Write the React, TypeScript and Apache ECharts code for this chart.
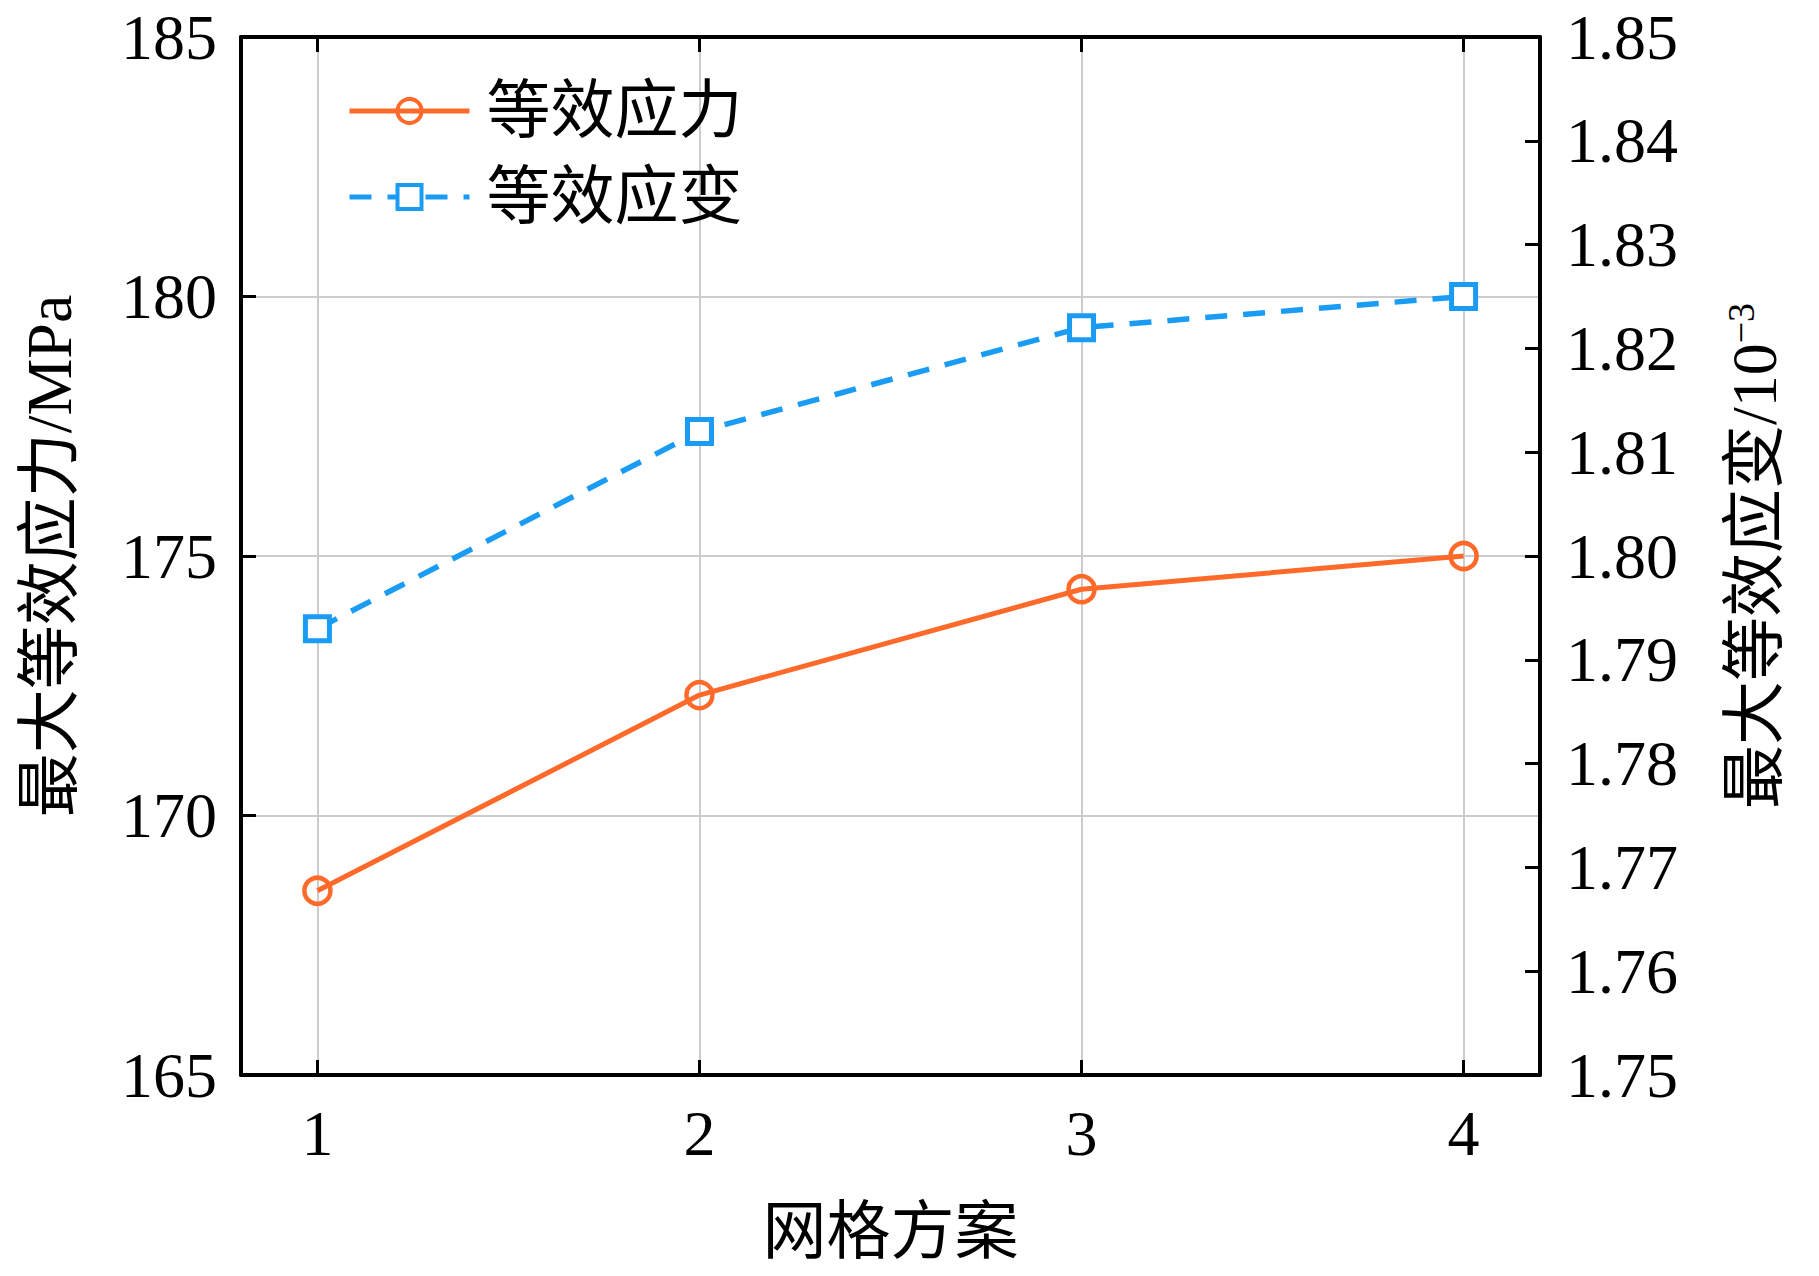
import React, { useEffect, useRef } from "react";
import * as echarts from "echarts";

const schemes = [1, 2, 3, 4];
const stress = [168.55, 172.32, 174.36, 175.0];
const strain = [1.793, 1.812, 1.822, 1.825];
const seriesNames = ["等效应力", "等效应变"];
const xTitle = "网格方案";
const leftTitle = "最大等效应力/MPa";
const rightTitle = "最大等效应变/10{sup|−3}";

const ORANGE = "#FF6A2A";
const BLUE = "#1A9CF5";
const FONT = "'Liberation Serif', 'Times New Roman', 'Noto Sans CJK SC', serif";

export default function App() {
  const ref = useRef<HTMLDivElement>(null);
  useEffect(() => {
    const chart = echarts.init(ref.current!, null, { renderer: "svg" });
    const axisLine = { show: true, lineStyle: { color: "#000", width: 4 } };
    const tick = { show: true, inside: true, length: 15, lineStyle: { color: "#000", width: 3 } };
    const grid = { show: true, lineStyle: { color: "#cccccc", width: 2 } };
    const label = { fontSize: 64, color: "#000", fontFamily: FONT };
    const option: any = {
      animation: false,
      backgroundColor: "#fff",
      grid: { left: 241, right: 279, top: 37, bottom: 201 },
      legend: {
        orient: "vertical",
        left: 342,
        top: 74,
        itemWidth: 120,
        itemHeight: 30,
        itemGap: 22,
        lineStyle: { width: 5 },
        itemStyle: { borderWidth: 4 },
        textStyle: { ...label, padding: [0, 0, 0, 12] },
        data: seriesNames,
      },
      xAxis: [
        {
          type: "value",
          min: 0.8,
          max: 4.2,
          position: "bottom",
          axisLine,
          axisTick: { ...tick, customValues: schemes },
          axisLabel: { ...label, margin: 26, customValues: schemes },
          splitLine: grid,
          name: xTitle,
          nameLocation: "middle",
          nameGap: 124,
          nameTextStyle: label,
        },
        {
          type: "value",
          min: 0.8,
          max: 4.2,
          position: "top",
          axisLine,
          axisTick: { ...tick, customValues: schemes },
          axisLabel: { show: false, customValues: schemes },
          splitLine: { show: false },
        },
      ],
      yAxis: [
        {
          type: "value",
          min: 165,
          max: 185,
          interval: 5,
          position: "left",
          axisLine,
          axisTick: tick,
          axisLabel: { ...label, margin: 24 },
          splitLine: grid,
          name: leftTitle,
          nameLocation: "middle",
          nameRotate: 90,
          nameGap: 160,
          nameTextStyle: label,
        },
        {
          type: "value",
          min: 1.75,
          max: 1.85,
          interval: 0.01,
          position: "right",
          axisLine,
          axisTick: tick,
          axisLabel: { ...label, margin: 26, formatter: (v: number) => v.toFixed(2) },
          splitLine: { show: false },
          name: rightTitle,
          nameLocation: "middle",
          nameRotate: 90,
          nameGap: 182,
          nameTextStyle: {
            ...label,
            rich: { sup: { fontSize: 38, color: "#000", fontFamily: FONT, verticalAlign: "top" } },
          },
        },
      ],
      series: [
        {
          type: "line",
          name: seriesNames[0],
          xAxisIndex: 0,
          yAxisIndex: 0,
          data: schemes.map((x, i) => [x, stress[i]]),
          symbol: "circle",
          symbolSize: 26,
          lineStyle: { color: ORANGE, width: 5 },
          itemStyle: { color: "rgba(255,255,255,0)", borderColor: ORANGE, borderWidth: 4.5 },
          z: 3,
        },
        {
          type: "line",
          name: seriesNames[1],
          xAxisIndex: 0,
          yAxisIndex: 1,
          data: schemes.map((x, i) => [x, strain[i]]),
          symbol: "rect",
          symbolSize: 24,
          lineStyle: { color: BLUE, width: 5.5, type: [22, 16] },
          itemStyle: { color: "#fff", borderColor: BLUE, borderWidth: 5 },
          z: 3,
        },
      ],
    };
    chart.setOption(option);
    return () => chart.dispose();
  }, []);
  return (
    <div
      ref={ref}
      style={{ position: "fixed", left: 0, top: 0, width: 1819, height: 1276 }}
    />
  );
}
